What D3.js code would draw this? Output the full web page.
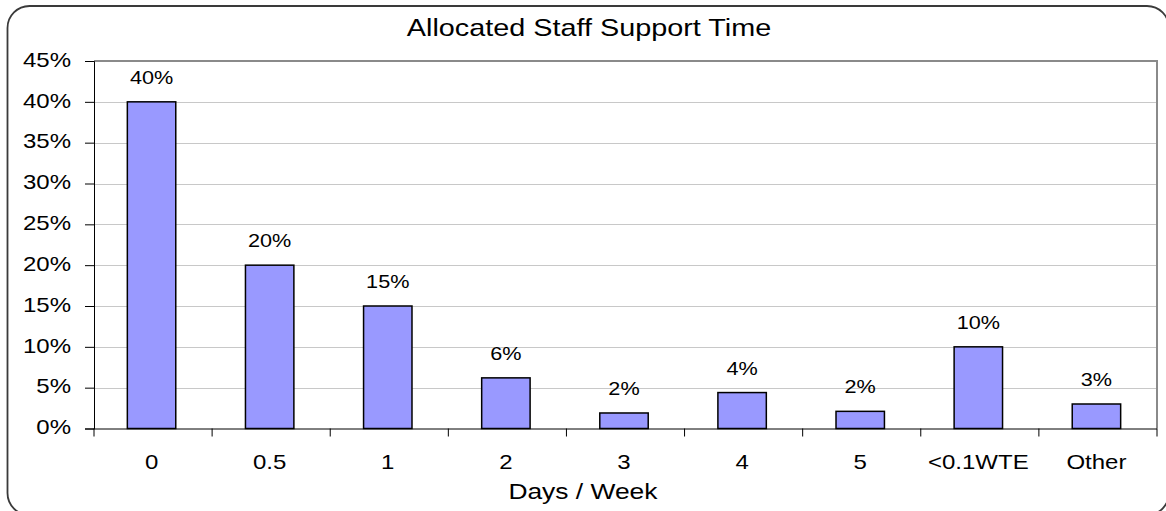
<!DOCTYPE html>
<html><head><meta charset="utf-8">
<script src="https://cdn.jsdelivr.net/npm/d3@7"></script>
<style>
body{margin:0;background:#fff;}
svg{display:block;font-family:"Liberation Sans",Arial,sans-serif;}
.sx-end{transform-box:fill-box;transform-origin:right center;transform:scaleX(1.2);}
.sx-mid{transform-box:fill-box;transform-origin:center center;transform:scaleX(1.2);}
.sx-mid2{transform-box:fill-box;transform-origin:center center;transform:scaleX(1.14);}
</style></head>
<body>
<svg id="c" width="1166" height="511"></svg>
<script>
const categories = ["0","0.5","1","2","3","4","5","<0.1WTE","Other"];
const values = [0.40,0.20,0.15,0.062,0.019,0.044,0.021,0.10,0.030];
const yTicks = [0,0.05,0.10,0.15,0.20,0.25,0.30,0.35,0.40,0.45];
const title = "Allocated Staff Support Time";
const xTitle = "Days / Week";

const svg = d3.select("#c");
const L=94, R=1157, T=61, B=428.5;

svg.append("rect").attr("x",7.5).attr("y",6).attr("width",1161.5).attr("height",509)
  .attr("rx",22).attr("fill","#fff").attr("stroke","#3a3a3a").attr("stroke-width",1.8);

const x = d3.scaleBand().domain(categories).range([L,R]).paddingInner(0.59).paddingOuter(0.295);
const y = d3.scaleLinear().domain([0,0.45]).range([B,T]);

// gridlines
svg.append("g").selectAll("line").data(yTicks.filter(d=>d>0 && d<0.45)).join("line")
  .attr("x1",L).attr("x2",R).attr("y1",d=>Math.round(y(d))+0.5).attr("y2",d=>Math.round(y(d))+0.5)
  .attr("stroke","#c8c8c8").attr("stroke-width",1);
// top/right border
svg.append("path").attr("d",`M${L},${T}H${R}V${B}`).attr("fill","none").attr("stroke","#8a8a8a").attr("stroke-width",2);

// bars
svg.append("g").selectAll("rect").data(values).join("rect")
  .attr("x",(d,i)=>x(categories[i])-1.5).attr("width",x.bandwidth())
  .attr("y",d=>y(d)).attr("height",d=>B-y(d))
  .attr("fill","#9999ff").attr("stroke","#000").attr("stroke-width",1.5);

// data labels
svg.append("g").selectAll("text").data(values).join("text")
  .attr("class","sx-mid2")
  .attr("x",(d,i)=>x(categories[i])-1.5+x.bandwidth()/2).attr("y",d=>y(d)-18)
  .attr("text-anchor","middle").attr("font-size",19).attr("fill","#000")
  .text(d=>d3.format(".0%")(d));

// y axis
const ya = svg.append("g").attr("transform",`translate(${L},0)`)
  .call(d3.axisLeft(y).tickValues(yTicks).tickFormat(d3.format(".0%")).tickSize(9).tickPadding(14));
ya.select(".domain").attr("stroke","#000");
ya.selectAll(".tick line").attr("stroke","#000");
ya.selectAll(".tick text").attr("class","sx-end").attr("font-size",20).attr("fill","#000")
  .attr("font-family","Liberation Sans, Arial, sans-serif").attr("dy","0.26em");

// x axis
const xa = svg.append("g").attr("transform",`translate(0,${B})`)
  .call(d3.axisBottom(x).tickSize(0).tickPadding(41));
xa.select(".domain").attr("stroke","#000").attr("d",`M${L},0.5H${R}`);
xa.selectAll(".tick text").attr("class","sx-mid").attr("font-size",20).attr("fill","#000")
  .attr("font-family","Liberation Sans, Arial, sans-serif").attr("dy","0")
  .attr("transform",null).attr("x",-1.5);
const step = x.step();
svg.append("g").selectAll("line").data(d3.range(categories.length+1)).join("line")
  .attr("x1",i=>L+i*step).attr("x2",i=>L+i*step).attr("y1",B).attr("y2",B+8)
  .attr("stroke","#000").attr("stroke-width",1);

// titles
svg.append("text").attr("class","sx-mid").attr("x",589).attr("y",36.5).attr("text-anchor","middle")
  .attr("font-size",24).attr("fill","#000").text(title);
svg.append("text").attr("class","sx-mid").attr("x",583).attr("y",499.5).attr("text-anchor","middle")
  .attr("font-size",22).attr("fill","#000").text(xTitle);
</script>
</body></html>
